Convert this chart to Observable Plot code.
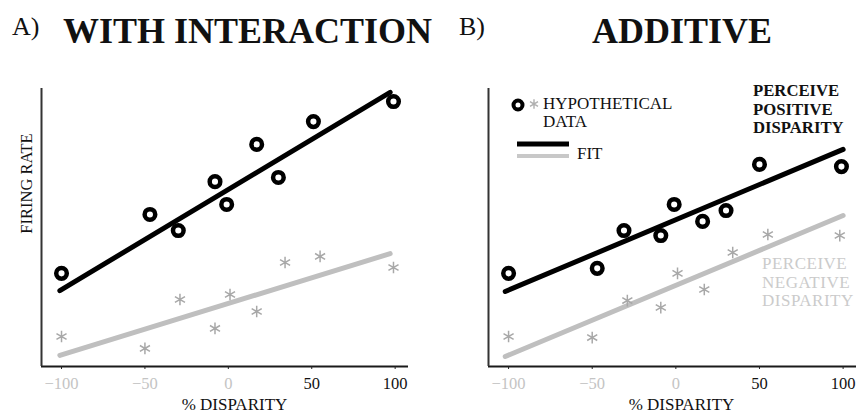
<!DOCTYPE html>
<html>
<head>
<meta charset="utf-8">
<script src="https://cdn.jsdelivr.net/npm/d3@7"></script>
<script src="https://cdn.jsdelivr.net/npm/@observablehq/plot@0.6"></script>
<style>
  html, body { margin: 0; padding: 0; background: #fff; }
  #wrap { position: relative; width: 864px; height: 415px; overflow: hidden; font-family: "Liberation Serif", "Times New Roman", serif; }
  .panel { position: absolute; top: 80px; }
  #panelA { left: 0; }
  #panelB { left: 432px; }
  #overlay { position: absolute; left: 0; top: 0; pointer-events: none; }
  #overlay text { font-family: "Liberation Serif", "Times New Roman", serif; }
</style>
</head>
<body>
<div id="wrap">
  <div id="panelA" class="panel"></div>
  <div id="panelB" class="panel"></div>
  <svg id="overlay" width="864" height="415"></svg>
</div>
<script>
// Shared axis setup
const xDomain = [-112, 108];
const xTicks = [-100, -50, 0, 50, 100];

// A) With interaction: circles = perceive positive, stars = perceive negative
const aCircleX = [-100, -47, -30, -8, -1, 17, 30, 51, 99];
const aCircleY = [33.5, 54.7, 48.9, 66.5, 58.3, 79.9, 68.0, 88.1, 95.3];
const aStarX = [-100, -50, -29, -8, 1, 17, 34, 55, 99];
const aStarY = [10.8, 6.5, 24.1, 13.7, 25.9, 19.8, 37.4, 39.6, 35.6];
const aFitX = [-101, 97];
const aFitPos = [27.3, 98.6];
const aFitNeg = [4.0, 40.6];

// B) Additive
const bCircleX = [-100, -47, -31, -9, -1, 16, 30, 50, 99];
const bCircleY = [33.5, 35.3, 48.9, 47.1, 58.3, 52.2, 56.1, 72.7, 71.9];
const bStarX = [-100, -50, -29, -9, 1, 17, 34, 55, 98];
const bStarY = [10.8, 10.4, 23.7, 21.2, 33.5, 27.7, 41.0, 47.5, 47.1];
const bFitX = [-102, 100];
const bFitPos = [27.0, 78.1];
const bFitNeg = [3.6, 54.3];

const zip = (xs, ys) => xs.map((x, i) => ({x, y: ys[i]}));

function panel({circleX, circleY, starX, starY, fitX, fitPos, fitNeg, marginLeft, marginRight}) {
  const circles = zip(circleX, circleY);
  const stars = zip(starX, starY);
  const posFit = zip(fitX, fitPos);
  const negFit = zip(fitX, fitNeg);
  return Plot.plot({
    width: 432,
    height: 335,
    marginTop: 8,
    marginBottom: 49,
    marginLeft,
    marginRight,
    x: {domain: xDomain},
    y: {domain: [0, 100], axis: null},
    style: {fontFamily: "'Liberation Serif', 'Times New Roman', serif", fontSize: "16.5px", background: "transparent", overflow: "visible"},
    marks: [
      Plot.ruleY([0], {stroke: "#1a1a1a", strokeWidth: 2}),
      Plot.ruleX([xDomain[0]], {stroke: "#333", strokeWidth: 2}),
      Plot.axisX(xTicks.filter(t => t <= 0), {tickSize: 3, tickPadding: 8, stroke: "#222", fill: "#c4c4c4", label: null}),
      Plot.axisX(xTicks.filter(t => t > 0), {tickSize: 3, tickPadding: 8, stroke: "#222", fill: "#111", label: null}),
      Plot.line(negFit, {x: "x", y: "y", stroke: "#bfbfbf", strokeWidth: 5}),
      Plot.line(posFit, {x: "x", y: "y", stroke: "#000", strokeWidth: 5}),
      Plot.dot(stars, {x: "x", y: "y", symbol: "asterisk", r: 5.5, stroke: "#a8a8a8", strokeWidth: 1.5}),
      Plot.dot(circles, {x: "x", y: "y", r: 5.3, stroke: "#000", strokeWidth: 4.5, fill: "none"})
    ]
  });
}

document.getElementById("panelA").append(panel({
  circleX: aCircleX, circleY: aCircleY, starX: aStarX, starY: aStarY,
  fitX: aFitX, fitPos: aFitPos, fitNeg: aFitNeg, marginLeft: 41, marginRight: 24
}));
document.getElementById("panelB").append(panel({
  circleX: bCircleX, circleY: bCircleY, starX: bStarX, starY: bStarY,
  fitX: bFitX, fitPos: bFitPos, fitNeg: bFitNeg, marginLeft: 56, marginRight: 8
}));

// Titles, axis titles, legend and annotations
const ov = d3.select("#overlay");
function label(x, y, str, opts = {}) {
  const t = ov.append("text").attr("x", x).attr("y", y).text(str)
    .attr("font-size", opts.size || 16)
    .attr("fill", opts.fill || "#111");
  if (opts.bold) t.attr("font-weight", "bold");
  if (opts.anchor) t.attr("text-anchor", opts.anchor);
  if (opts.spacing) t.attr("letter-spacing", opts.spacing);
  return t;
}
label(12, 35, "A)", {size: 26});
label(63, 43, "WITH INTERACTION", {size: 36, bold: true});
label(459, 35, "B)", {size: 26});
label(592, 43, "ADDITIVE", {size: 36, bold: true});

label(0, 0, "FIRING RATE", {size: 16.5, anchor: "middle"})
  .attr("transform", "translate(32,183.5) rotate(-90)");
label(234.5, 410, "% DISPARITY", {size: 17, anchor: "middle"});
label(681.5, 410, "% DISPARITY", {size: 17, anchor: "middle"});

// Legend
ov.append("circle").attr("cx", 518).attr("cy", 105).attr("r", 4.5)
  .attr("fill", "none").attr("stroke", "#000").attr("stroke-width", 4);
ov.append("path").attr("d", d3.symbol(d3.symbolAsterisk, 60)())
  .attr("transform", "translate(534,104)")
  .attr("fill", "none").attr("stroke", "#b0b0b0").attr("stroke-width", 1.4);
label(543, 109, "HYPOTHETICAL", {size: 17});
label(543, 127, "DATA", {size: 17});
ov.append("line").attr("x1", 517).attr("x2", 569).attr("y1", 144).attr("y2", 144)
  .attr("stroke", "#000").attr("stroke-width", 5);
ov.append("line").attr("x1", 517).attr("x2", 569).attr("y1", 156).attr("y2", 156)
  .attr("stroke", "#c8c8c8").attr("stroke-width", 4);
label(577, 159, "FIT", {size: 17});

// Annotations
["PERCEIVE", "POSITIVE", "DISPARITY"].forEach((s, i) =>
  label(753, 96 + i * 18.5, s, {size: 16.7, bold: true}));
["PERCEIVE", "NEGATIVE", "DISPARITY"].forEach((s, i) =>
  label(762, 269 + i * 18.5, s, {size: 17, fill: "#cbcbcb", spacing: 0.5}));
</script>
</body>
</html>
